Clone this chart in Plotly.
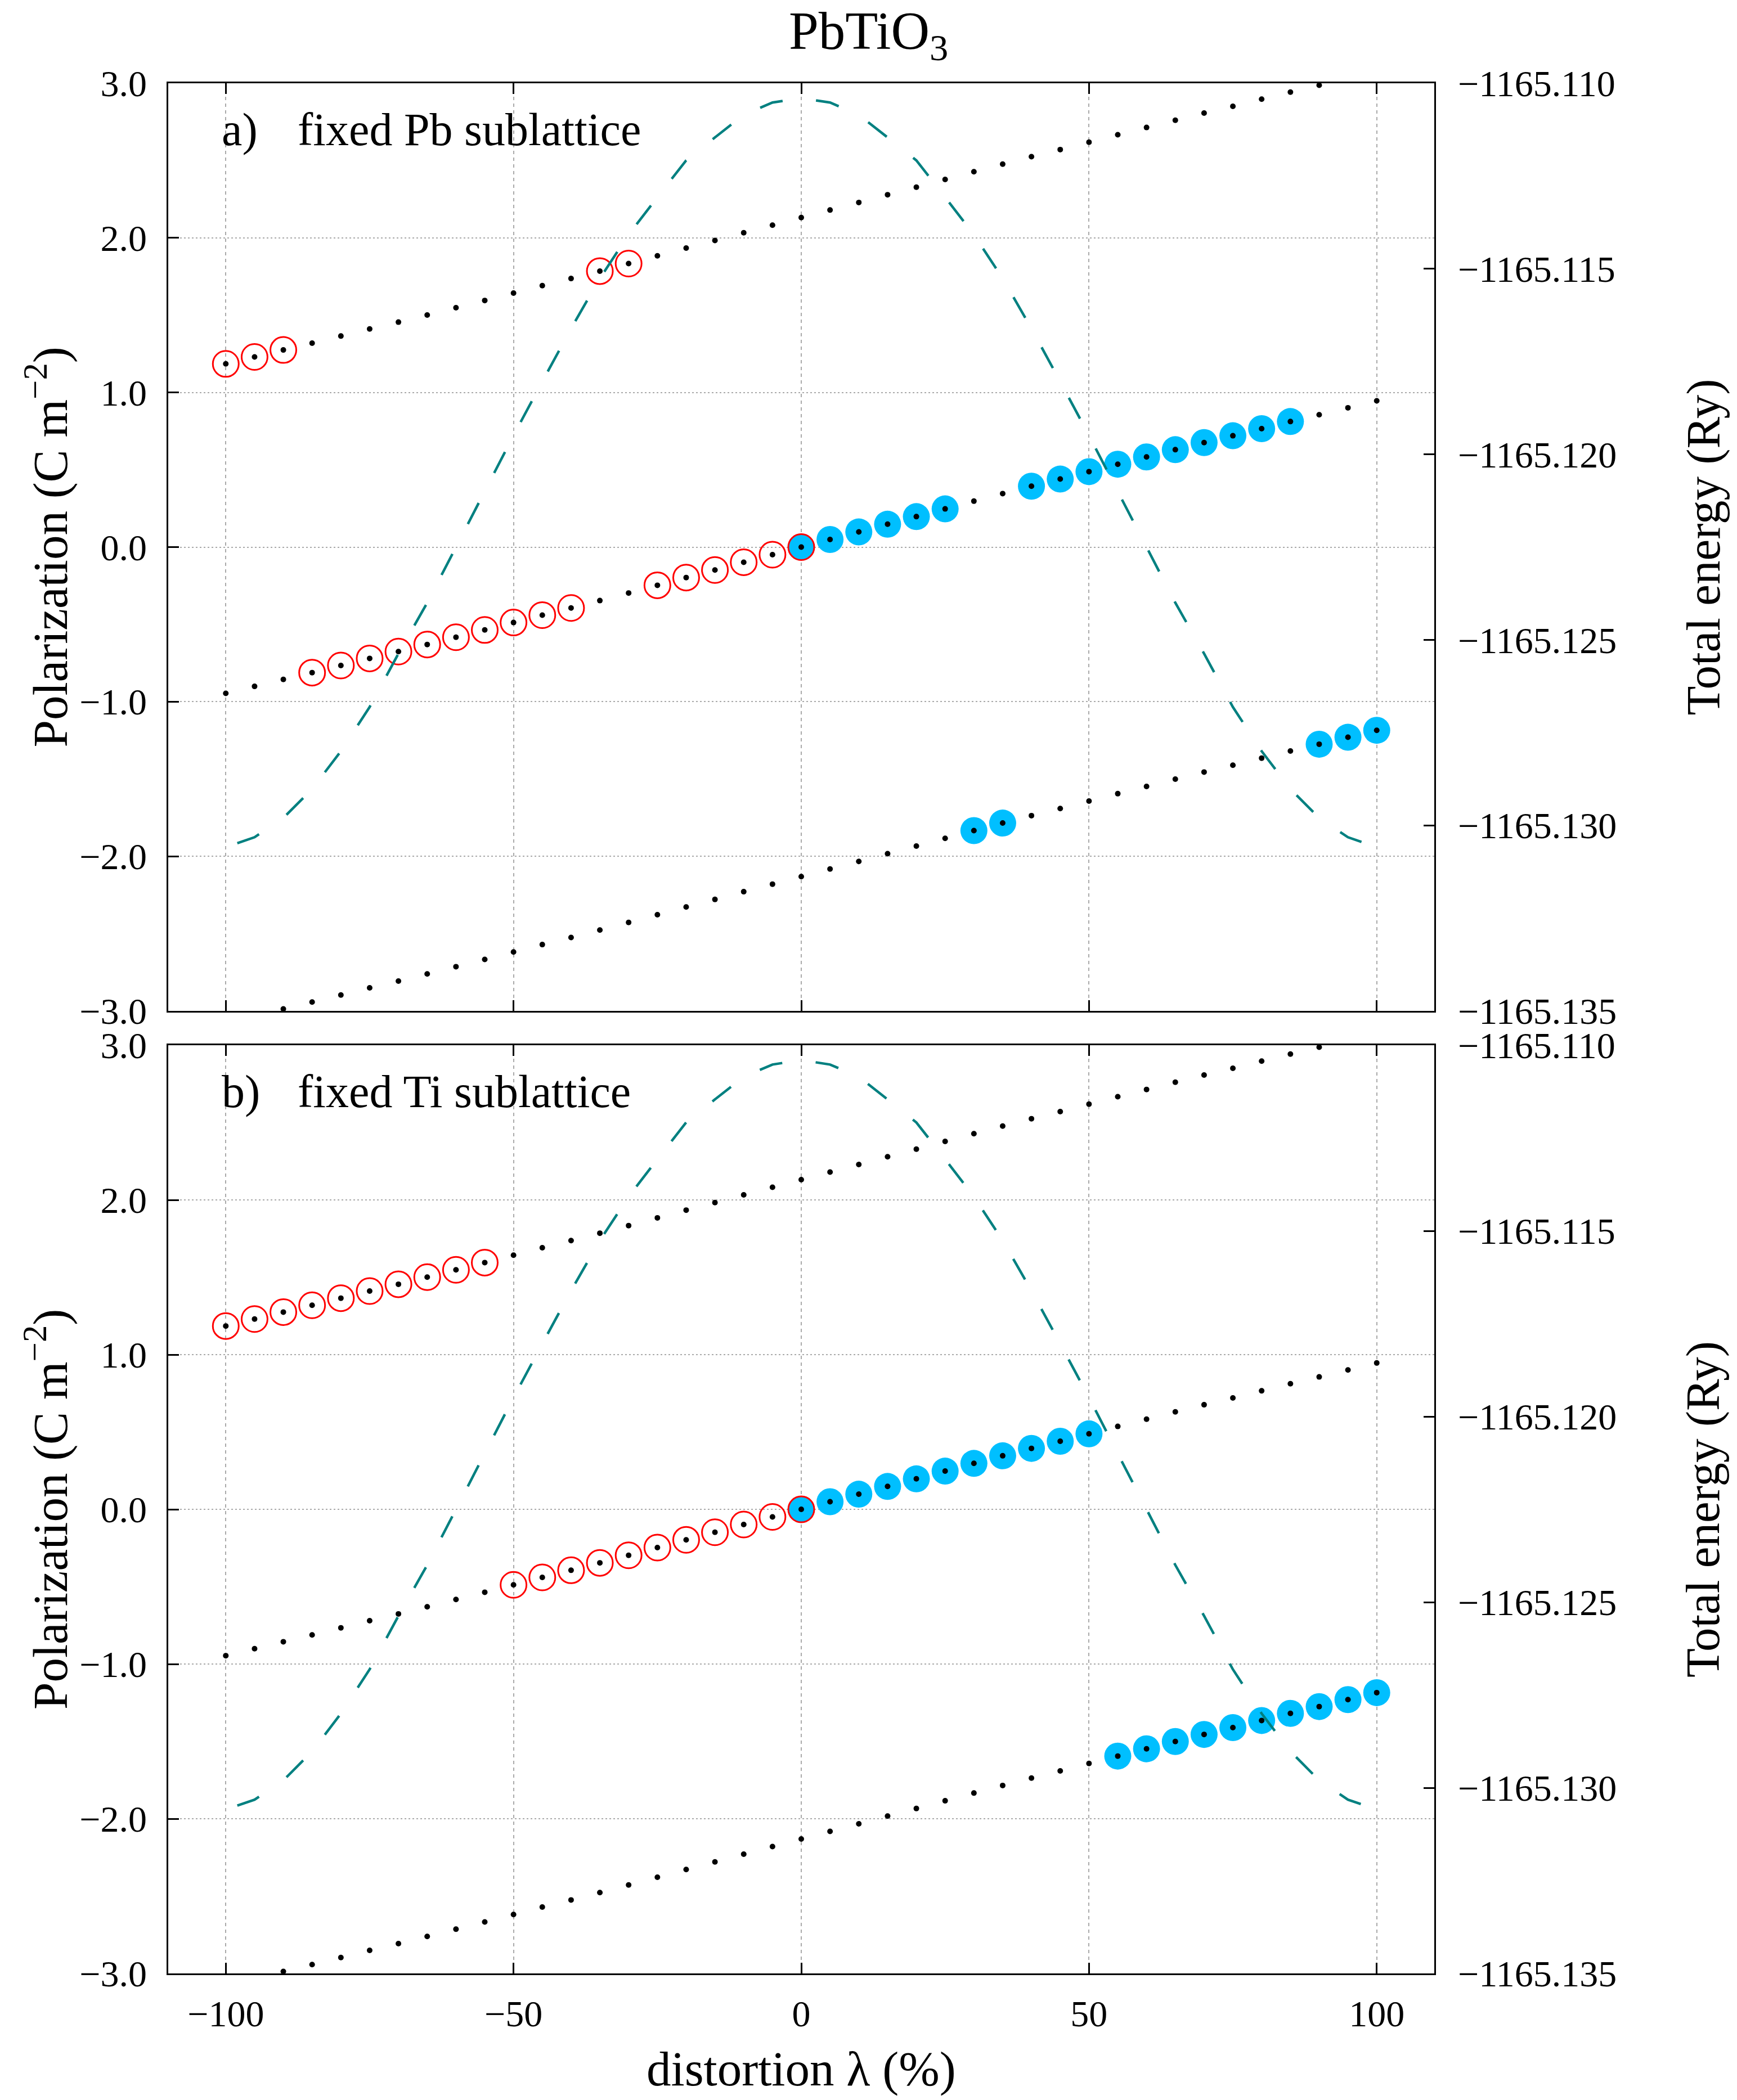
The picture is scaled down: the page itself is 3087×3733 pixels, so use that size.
import plotly.graph_objects as go

# ---------------- data ----------------
lam = [-100, -95, -90, -85, -80, -75, -70, -65, -60, -55, -50, -45, -40, -35, -30, -25, -20, -15, -10, -5, 0,
       5, 10, 15, 20, 25, 30, 35, 40, 45, 50, 55, 60, 65, 70, 75, 80, 85, 90, 95, 100]

p_mid = [-0.946, -0.901, -0.856, -0.812, -0.766, -0.720, -0.676, -0.630, -0.583, -0.536, -0.488,
         -0.440, -0.394, -0.346, -0.297, -0.247, -0.197, -0.148, -0.098, -0.049, 0.000,
         0.049, 0.098, 0.148, 0.197, 0.247, 0.297, 0.346, 0.394, 0.440, 0.488,
         0.536, 0.583, 0.630, 0.676, 0.720, 0.766, 0.812, 0.856, 0.901, 0.946]

p_up = [1.185, 1.230, 1.275, 1.319, 1.365, 1.411, 1.455, 1.501, 1.548, 1.595, 1.643,
        1.691, 1.737, 1.785, 1.834, 1.884, 1.934, 1.983, 2.033, 2.082, 2.131,
        2.180, 2.229, 2.279, 2.328, 2.378, 2.428, 2.477, 2.525, 2.571, 2.619,
        2.667, 2.714, 2.761, 2.807, 2.851, 2.897, 2.943, 2.987, 3.032, 3.077]

p_low = [-3.077, -3.032, -2.987, -2.943, -2.897, -2.851, -2.807, -2.761, -2.714, -2.667, -2.619,
         -2.571, -2.525, -2.477, -2.428, -2.378, -2.328, -2.279, -2.229, -2.180, -2.131,
         -2.082, -2.033, -1.983, -1.934, -1.884, -1.834, -1.785, -1.737, -1.691, -1.643,
         -1.595, -1.548, -1.501, -1.455, -1.411, -1.365, -1.319, -1.275, -1.230, -1.185]

# branch picked at each lambda (U = upper, M = middle, L = lower)
lam_neg = [-100, -95, -90, -85, -80, -75, -70, -65, -60, -55, -50, -45, -40, -35, -30, -25, -20, -15, -10, -5, 0]
lam_pos = [0, 5, 10, 15, 20, 25, 30, 35, 40, 45, 50, 55, 60, 65, 70, 75, 80, 85, 90, 95, 100]

branch_a_red = ["U", "U", "U", "M", "M", "M", "M", "M", "M", "M", "M", "M", "M", "U", "U",
                "M", "M", "M", "M", "M", "M"]
branch_a_blue = ["M", "M", "M", "M", "M", "M", "L", "L", "M", "M", "M", "M", "M", "M", "M",
                 "M", "M", "M", "L", "L", "L"]
branch_b_red = ["U", "U", "U", "U", "U", "U", "U", "U", "U", "U", "M", "M", "M", "M", "M",
                "M", "M", "M", "M", "M", "M"]
branch_b_blue = ["M", "M", "M", "M", "M", "M", "M", "M", "M", "M", "M", "L", "L", "L", "L",
                 "L", "L", "L", "L", "L", "L"]

# total energy (Ry)
lam_E = [-98, -95, -90, -85, -80, -75, -70, -65, -60, -55, -50, -45, -40, -35, -30, -25, -20, -15, -10, -5, 0,
         5, 10, 15, 20, 25, 30, 35, 40, 45, 50, 55, 60, 65, 70, 75, 80, 85, 90, 95, 98]
energy = [-1165.13048, -1165.13032, -1165.12980, -1165.12902, -1165.12800, -1165.12681, -1165.12537,
          -1165.12400, -1165.12250, -1165.12100, -1165.11949, -1165.11804, -1165.11661, -1165.11526,
          -1165.11408, -1165.11307, -1165.11208, -1165.11146, -1165.11085, -1165.11052, -1165.11040,
          -1165.11052, -1165.11085, -1165.11146, -1165.11208, -1165.11307, -1165.11408, -1165.11526,
          -1165.11661, -1165.11804, -1165.11949, -1165.12100, -1165.12250, -1165.12400, -1165.12537,
          -1165.12681, -1165.12800, -1165.12902, -1165.12980, -1165.13032, -1165.13048]

x_ticks = [-100, -50, 0, 50, 100]
p_ticks = [-3, -2, -1, 0, 1, 2, 3]
e_ticks = [-1165.135, -1165.130, -1165.125, -1165.120, -1165.115, -1165.110]

panel_labels = ["a)", "b)"]
panel_texts = ["fixed Pb sublattice", "fixed Ti sublattice"]

# ---------------- helpers ----------------
branch_vals = {"U": dict(zip(lam, p_up)), "M": dict(zip(lam, p_mid)), "L": dict(zip(lam, p_low))}


def pick(lams, codes):
    return [branch_vals[c][l] for l, c in zip(lams, codes)]


W, H = 3087, 3733
FONT = "Liberation Serif"
RED = "#ff0000"
BLUE = "#00bfff"
TEAL = "#008080"

fig = go.Figure()

panels = [
    ("x", "y", "y3", branch_a_red, branch_a_blue),
    ("x2", "y2", "y4", branch_b_red, branch_b_blue),
]

for xa, ya, ye, bred, bblue in panels:
    fig.add_trace(go.Scatter(x=lam_pos, y=pick(lam_pos, bblue), xaxis=xa, yaxis=ya, mode="markers",
                             marker=dict(symbol="circle", size=48, color=BLUE, line=dict(width=0)),
                             showlegend=False, hoverinfo="skip"))
    fig.add_trace(go.Scatter(x=lam_neg, y=pick(lam_neg, bred), xaxis=xa, yaxis=ya, mode="markers",
                             marker=dict(symbol="circle-open", size=46, color=RED, line=dict(width=3, color=RED)),
                             showlegend=False, hoverinfo="skip"))
    for br in (p_up, p_mid, p_low):
        fig.add_trace(go.Scatter(x=lam, y=br, xaxis=xa, yaxis=ya, mode="markers",
                                 marker=dict(symbol="circle", size=10, color="black"),
                                 showlegend=False, hoverinfo="skip"))
    fig.add_trace(go.Scatter(x=lam_E, y=energy, xaxis=xa, yaxis=ye, mode="lines",
                             line=dict(color=TEAL, width=4.5, dash="42px,60px"),
                             showlegend=False, hoverinfo="skip"))

xdom = [299 / W, 2549 / W]
ydom_top = [1 - 1797 / H, 1 - 148 / H]
ydom_bot = [1 - 3508 / H, 1 - 1858 / H]

tickfont = dict(family=FONT, size=66, color="black")


def xax(anchor, show_labels):
    return dict(domain=xdom, anchor=anchor, range=[-110, 110], tickmode="array", tickvals=x_ticks,
                ticks="inside", ticklen=19, tickwidth=2.5, tickcolor="black",
                showline=True, linewidth=2.5, linecolor="black", mirror="ticks",
                showgrid=True, gridcolor="#aaaaaa", gridwidth=1.5, griddash="6px,6px",
                zeroline=False, showticklabels=show_labels, tickfont=tickfont,
                ticklabelstandoff=12)


def yax(anchor, dom):
    return dict(domain=dom, anchor=anchor, range=[-3, 3], tickmode="array", tickvals=p_ticks,
                tickformat=".1f", ticks="inside", ticklen=19, tickwidth=2.5, tickcolor="black",
                showline=True, linewidth=2.5, linecolor="black", mirror=True,
                showgrid=True, gridcolor="#aaaaaa", gridwidth=1.5, griddash="3px,4px",
                zeroline=False, tickfont=tickfont, ticklabelstandoff=22)


def eax(anchor, overlay):
    return dict(overlaying=overlay, anchor=anchor, side="right", range=[-1165.135, -1165.110],
                tickmode="array", tickvals=e_ticks, tickformat=".3f",
                ticks="inside", ticklen=19, tickwidth=2.5, tickcolor="black",
                showline=False, showgrid=False, zeroline=False, tickfont=tickfont,
                ticklabelstandoff=41)


annotations = [
    dict(text="PbTiO<sub>3</sub>", x=0.5, y=1, xref="paper", yref="paper",
         xanchor="center", yanchor="top", showarrow=False,
         font=dict(family=FONT, size=95, color="black")),
    dict(text="distortion λ (%)", x=1424 / W, y=1 - 3677 / H, xref="paper", yref="paper",
         xanchor="center", yanchor="middle", showarrow=False,
         font=dict(family=FONT, size=87, color="black")),
]
for i, (dom, ya) in enumerate([(ydom_top, "y"), (ydom_bot, "y2")]):
    cy = (dom[0] + dom[1]) / 2
    annotations.append(dict(text="Polarization (C m<sup>−2</sup>)", x=83 / W, y=cy, xref="paper", yref="paper",
                            xanchor="center", yanchor="middle", textangle=-90, showarrow=False,
                            font=dict(family=FONT, size=87, color="black")))
    annotations.append(dict(text="Total energy (Ry)", x=3027 / W, y=cy, xref="paper", yref="paper",
                            xanchor="center", yanchor="middle", textangle=-90, showarrow=False,
                            font=dict(family=FONT, size=85, color="black")))
    annotations.append(dict(text=panel_labels[i], x=392 / W, y=2.70, xref="paper", yref=ya,
                            xanchor="left", yanchor="middle", showarrow=False,
                            font=dict(family=FONT, size=82, color="black")))
    annotations.append(dict(text=panel_texts[i], x=527 / W, y=2.70, xref="paper", yref=ya,
                            xanchor="left", yanchor="middle", showarrow=False,
                            font=dict(family=FONT, size=82, color="black")))

fig.update_layout(
    template="none",
    width=W, height=H, autosize=False,
    margin=dict(l=0, r=0, t=0, b=0, pad=0),
    paper_bgcolor="white", plot_bgcolor="white",
    font=dict(family=FONT, color="black"),
    xaxis=xax("y", False),
    xaxis2=xax("y2", True),
    yaxis=yax("x", ydom_top),
    yaxis2=yax("x2", ydom_bot),
    yaxis3=eax("x", "y"),
    yaxis4=eax("x2", "y2"),
    annotations=annotations,
    showlegend=False,
)

fig.write_html("out.html")
